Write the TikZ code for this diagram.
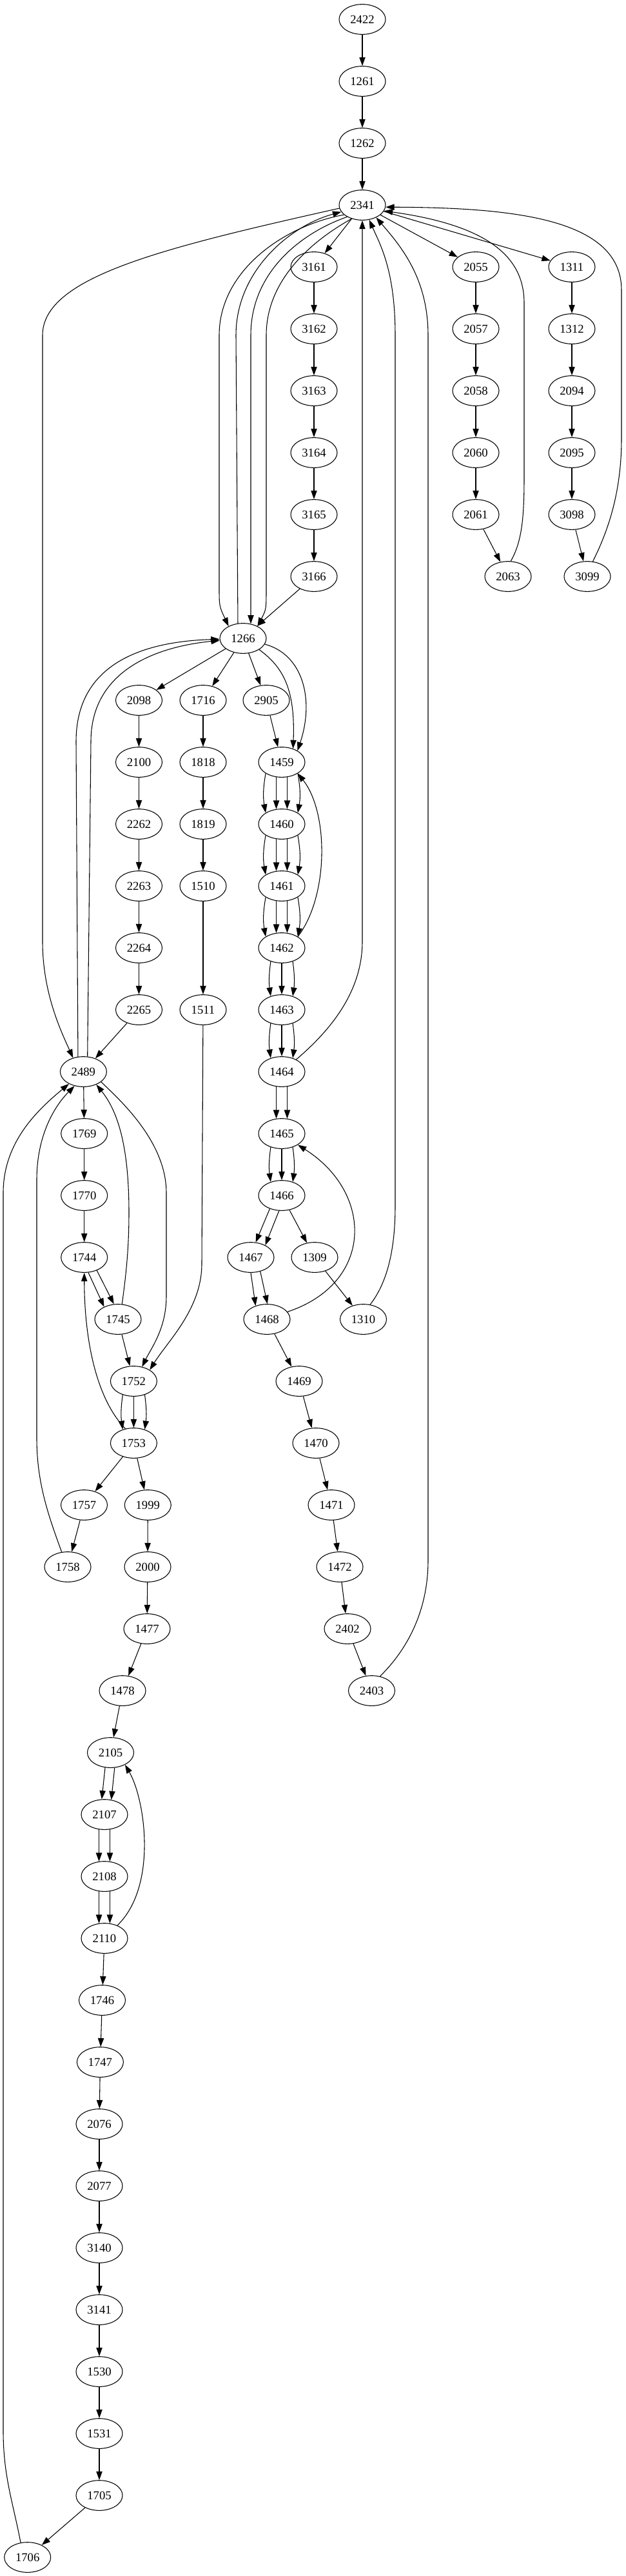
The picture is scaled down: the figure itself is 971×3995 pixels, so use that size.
\documentclass[tikz,border=0pt]{standalone}
\usepackage{fontspec}
\setmainfont{Liberation Serif}
\usetikzlibrary{shapes.geometric, arrows.meta}

\begin{document}
\begin{tikzpicture}[x=0.75pt, y=-0.75pt,
  num/.style={draw, ellipse, line width=0.8pt, minimum width=54pt, minimum height=35pt, inner sep=0pt, font=\fontsize{14}{16}\selectfont},
  link/.style={-{Triangle[length=10pt, width=7pt]}, line width=0.8pt}]
\useasboundingbox (0,0) rectangle (971,3995);
% Nodes
\node[num] (n2422) at (562,30) {2422};
\node[num] (n1261) at (562,126) {1261};
\node[num] (n1262) at (562,222) {1262};
\node[num] (n2341) at (562,318) {2341};
\node[num] (n3161) at (487,414) {3161};
\node[num] (n3162) at (487,510) {3162};
\node[num] (n3163) at (487,606) {3163};
\node[num] (n3164) at (487,702) {3164};
\node[num] (n3165) at (487,798) {3165};
\node[num] (n3166) at (487,894) {3166};
\node[num] (n2055) at (738,414) {2055};
\node[num] (n2057) at (738,510) {2057};
\node[num] (n2058) at (738,606) {2058};
\node[num] (n2060) at (738,702) {2060};
\node[num] (n2061) at (738,798) {2061};
\node[num] (n2063) at (788,894) {2063};
\node[num] (n1311) at (887,414) {1311};
\node[num] (n1312) at (887,510) {1312};
\node[num] (n2094) at (887,606) {2094};
\node[num] (n2095) at (887,702) {2095};
\node[num] (n3098) at (887,798) {3098};
\node[num] (n3099) at (911,894) {3099};
\node[num] (n1266) at (377,990) {1266};
\node[num] (n2098) at (215.5,1086) {2098};
\node[num] (n2100) at (215.5,1182) {2100};
\node[num] (n2262) at (215.5,1278) {2262};
\node[num] (n2263) at (215.5,1374) {2263};
\node[num] (n2264) at (215.5,1470) {2264};
\node[num] (n2265) at (215.5,1566) {2265};
\node[num] (n1716) at (315,1086) {1716};
\node[num] (n1818) at (315,1182) {1818};
\node[num] (n1819) at (315,1278) {1819};
\node[num] (n1510) at (315,1374) {1510};
\node[num] (n1511) at (315,1566) {1511};
\node[num] (n2905) at (413,1086) {2905};
\node[num] (n1459) at (437,1182) {1459};
\node[num] (n1460) at (437,1278) {1460};
\node[num] (n1461) at (437,1374) {1461};
\node[num] (n1462) at (437,1470) {1462};
\node[num] (n1463) at (437,1566) {1463};
\node[num] (n1464) at (437,1662) {1464};
\node[num] (n1465) at (437,1758) {1465};
\node[num] (n1466) at (437,1854) {1466};
\node[num] (n2489) at (129.4,1662) {2489};
\node[num] (n1769) at (130.7,1758) {1769};
\node[num] (n1770) at (130.7,1854) {1770};
\node[num] (n1744) at (130.7,1950) {1744};
\node[num] (n1467) at (389,1950) {1467};
\node[num] (n1309) at (488,1950) {1309};
\node[num] (n1745) at (183,2046) {1745};
\node[num] (n1468) at (414,2046) {1468};
\node[num] (n1310) at (563.5,2046) {1310};
\node[num] (n1752) at (207.4,2142) {1752};
\node[num] (n1469) at (464,2142) {1469};
\node[num] (n1753) at (207.4,2238) {1753};
\node[num] (n1470) at (490,2238) {1470};
\node[num] (n1757) at (130.5,2334) {1757};
\node[num] (n1999) at (229.3,2334) {1999};
\node[num] (n1471) at (514,2334) {1471};
\node[num] (n1758) at (105,2430) {1758};
\node[num] (n2000) at (229,2430) {2000};
\node[num] (n1472) at (527,2430) {1472};
\node[num] (n1477) at (228,2526) {1477};
\node[num] (n2402) at (539,2526) {2402};
\node[num] (n1478) at (190,2622) {1478};
\node[num] (n2403) at (576.5,2622) {2403};
\node[num] (n2105) at (171.5,2718) {2105};
\node[num] (n2107) at (162,2814) {2107};
\node[num] (n2108) at (162,2910) {2108};
\node[num] (n2110) at (162,3006) {2110};
\node[num] (n1746) at (158.5,3102) {1746};
\node[num] (n1747) at (155.4,3198) {1747};
\node[num] (n2076) at (154,3294) {2076};
\node[num] (n2077) at (154,3390) {2077};
\node[num] (n3140) at (154,3486) {3140};
\node[num] (n3141) at (154,3582) {3141};
\node[num] (n1530) at (154,3678) {1530};
\node[num] (n1531) at (154,3774) {1531};
\node[num] (n1705) at (154,3870) {1705};
\node[num] (n1706) at (42.7,3966) {1706};

% Arrows
\draw[link] (n2422) -- (n1261);
\draw[link] (n1261) -- (n1262);
\draw[link] (n1262) -- (n2341);
\draw[link] (n2341) -- (n3161);
\draw[link] (n3161) -- (n3162);
\draw[link] (n3162) -- (n3163);
\draw[link] (n3163) -- (n3164);
\draw[link] (n3164) -- (n3165);
\draw[link] (n3165) -- (n3166);
\draw[link] (n3166) -- (n1266);
\draw[link] (n2341) -- (n2055);
\draw[link] (n2055) -- (n2057);
\draw[link] (n2057) -- (n2058);
\draw[link] (n2058) -- (n2060);
\draw[link] (n2060) -- (n2061);
\draw[link] (n2061) -- (n2063);
\draw[link] (n2341) -- (n1311);
\draw[link] (n1311) -- (n1312);
\draw[link] (n1312) -- (n2094);
\draw[link] (n2094) -- (n2095);
\draw[link] (n2095) -- (n3098);
\draw[link] (n3098) -- (n3099);
\draw[link] (n1266) -- (n2098);
\draw[link] (n1266) -- (n1716);
\draw[link] (n1266) -- (n2905);
\draw[link] (n2905) -- (n1459);
\draw[link] (n2098) -- (n2100);
\draw[link] (n2100) -- (n2262);
\draw[link] (n2262) -- (n2263);
\draw[link] (n2263) -- (n2264);
\draw[link] (n2264) -- (n2265);
\draw[link] (n2265) -- (n2489);
\draw[link] (n1716) -- (n1818);
\draw[link] (n1818) -- (n1819);
\draw[link] (n1819) -- (n1510);
\draw[link] (n1510) -- (n1511);
\draw[link] (n2489) -- (n1769);
\draw[link] (n1769) -- (n1770);
\draw[link] (n1770) -- (n1744);
\draw[link] (n1745) -- (n1752);
\draw[link] (n1466) -- (n1309);
\draw[link] (n1309) -- (n1310);
\draw[link] (n1468) -- (n1469);
\draw[link] (n1469) -- (n1470);
\draw[link] (n1470) -- (n1471);
\draw[link] (n1471) -- (n1472);
\draw[link] (n1472) -- (n2402);
\draw[link] (n2402) -- (n2403);
\draw[link] (n1753) -- (n1757);
\draw[link] (n1753) -- (n1999);
\draw[link] (n1757) -- (n1758);
\draw[link] (n1999) -- (n2000);
\draw[link] (n2000) -- (n1477);
\draw[link] (n1477) -- (n1478);
\draw[link] (n1478) -- (n2105);
\draw[link] (n2110) -- (n1746);
\draw[link] (n1746) -- (n1747);
\draw[link] (n1747) -- (n2076);
\draw[link] (n2076) -- (n2077);
\draw[link] (n2077) -- (n3140);
\draw[link] (n3140) -- (n3141);
\draw[link] (n3141) -- (n1530);
\draw[link] (n1530) -- (n1531);
\draw[link] (n1531) -- (n1705);
\draw[link] (n1705) -- (n1706);

% Parallel arrows
\draw[link] (n1459.215) to[bend right=10] (n1460.145);
\draw[link] (n1459.250) -- (n1460.110);
\draw[link] (n1459.290) -- (n1460.70);
\draw[link] (n1459.325) to[bend left=10] (n1460.35);
\draw[link] (n1460.215) to[bend right=10] (n1461.145);
\draw[link] (n1460.250) -- (n1461.110);
\draw[link] (n1460.290) -- (n1461.70);
\draw[link] (n1460.325) to[bend left=10] (n1461.35);
\draw[link] (n1461.215) to[bend right=10] (n1462.145);
\draw[link] (n1461.250) -- (n1462.110);
\draw[link] (n1461.290) -- (n1462.70);
\draw[link] (n1461.325) to[bend left=10] (n1462.35);
\draw[link] (n1462.231) to[bend right=8] (n1463.129);
\draw[link] (n1462) -- (n1463);
\draw[link] (n1462.309) to[bend left=8] (n1463.51);
\draw[link] (n1463.231) to[bend right=8] (n1464.129);
\draw[link] (n1463) -- (n1464);
\draw[link] (n1463.309) to[bend left=8] (n1464.51);
\draw[link] (n1464.250) -- (n1465.110);
\draw[link] (n1464.290) -- (n1465.70);
\draw[link] (n1465.231) to[bend right=8] (n1466.129);
\draw[link] (n1465) -- (n1466);
\draw[link] (n1465.309) to[bend left=8] (n1466.51);
\draw[link] (n1466.228) -- (n1467.72);
\draw[link] (n1466.260) -- (n1467.40);
\draw[link] (n1467.270) -- (n1468.130);
\draw[link] (n1467.304) -- (n1468.88);
\draw[link] (n1744.285) -- (n1745.138);
\draw[link] (n1744.314) -- (n1745.105);
\draw[link] (n1752.231) to[bend right=8] (n1753.129);
\draw[link] (n1752) -- (n1753);
\draw[link] (n1752.309) to[bend left=8] (n1753.51);
\draw[link] (n2105.250) -- (n2107.100);
\draw[link] (n2105.285) -- (n2107.65);
\draw[link] (n2107.250) -- (n2108.110);
\draw[link] (n2107.290) -- (n2108.70);
\draw[link] (n2108.250) -- (n2110.110);
\draw[link] (n2108.290) -- (n2110.70);

% Long curves
\draw[link] (n2341.188) .. controls (250,385) and (66,430) .. (66,520) -- (66,1460) .. controls (66,1540) and (95,1600) .. (n2489.127);
\draw[link] (n2341.208) .. controls (440,350) and (340,420) .. (340,520) -- (340,910) .. controls (340,940) .. (n1266.140);
\draw[link] (n1266.109) -- (366,520) .. controls (366,420) and (450,350) .. (n2341.198);
\draw[link] (n2341.218) .. controls (470,360) and (389,420) .. (389,520) -- (n1266.62);
\draw[link] (n2341.232) .. controls (490,370) and (413,430) .. (413,520) -- (413,910) .. controls (413,945) .. (n1266.40);
\draw[link] (n1464.40) .. controls (510,1600) and (562,1540) .. (562,1460) -- (n2341.south);
\draw[link] (n1310.65) .. controls (600,1990) and (613,1940) .. (613,1870) -- (613,520) .. controls (613,420) and (590,380) .. (n2341.295);
\draw[link] (n2403.60) .. controls (630,2560) and (664,2500) .. (664,2420) -- (664,520) .. controls (664,430) and (620,380) .. (n2341.318);
\draw[link] (n2063.80) .. controls (810,840) and (813,800) .. (813,740) -- (813,470) .. controls (813,400) and (760,350) .. (n2341.345);
\draw[link] (n3099.70) .. controls (945,820) and (964,760) .. (964,680) -- (964,450) .. controls (964,340) and (800,322) .. (n2341.355);
\draw[link] (n2489.110) -- (118,1150) .. controls (118,1030) and (220,995) .. (n1266.182);
\draw[link] (n2489.75) -- (141,1150) .. controls (141,1050) and (225,1005) .. (n1266.185);
\draw[link] (n1266.-35) .. controls (440,1035) and (458,1070) .. (n1459.50);
\draw[link] (n1266.-15) .. controls (470,1015) and (488,1085) .. (n1459.36);
\draw[link] (n1462.35) .. controls (510,1390) and (510,1260) .. (n1459.-35);
\draw[link] (n1468.20) .. controls (580,1990) and (580,1850) .. (n1465.-35);
\draw[link] (n1511) -- (313,1960) .. controls (313,2030) and (260,2080) .. (n1752.35);
\draw[link] (n2489.-30) .. controls (185,1705) and (258,1770) .. (258,1850) -- (258,2010) .. controls (258,2060) and (235,2090) .. (n1752.60);
\draw[link] (n1745.75) .. controls (195,1980) and (200,1940) .. (200,1880) .. controls (200,1770) and (180,1720) .. (n2489.-45);
\draw[link] (n1753.120) .. controls (150,2170) and (131,2080) .. (n1744.south);
\draw[link] (n1758.112) .. controls (75,2350) and (57,2300) .. (57,2230) -- (57,1830) .. controls (57,1760) and (85,1715) .. (n2489.-122);
\draw[link] (n1706.115) .. controls (20,3880) and (5,3840) .. (5,3770) -- (5,1850) .. controls (5,1770) and (60,1720) .. (n2489.-140);
\draw[link] (n2110.45) .. controls (245,2925) and (225,2790) .. (n2105.-40);
\end{tikzpicture}
\end{document}
